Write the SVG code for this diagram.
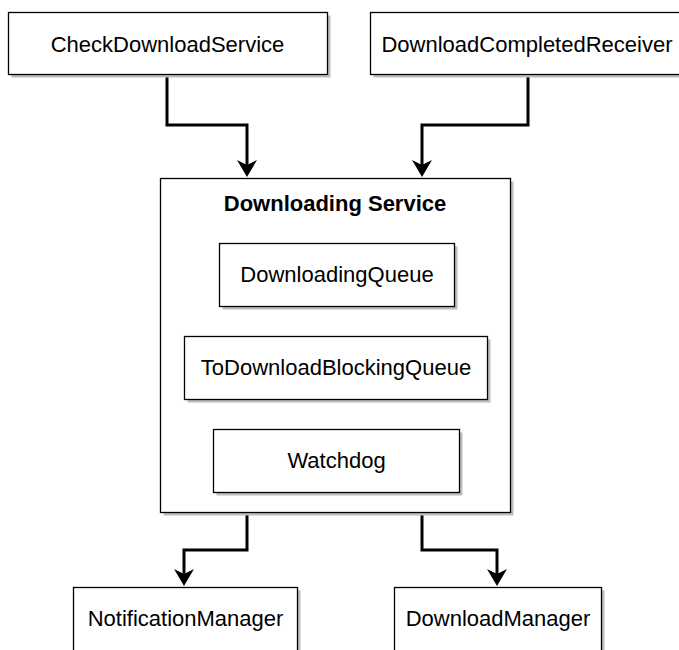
<svg xmlns="http://www.w3.org/2000/svg" width="679" height="650" viewBox="0 0 679 650">
<style>
.box{fill:#fff;stroke:#000;stroke-width:1.3}
.sh{fill:#bdbdbd}
.t{font-family:"Liberation Sans",Arial,sans-serif;font-size:22px;fill:#000;text-anchor:middle}
.b{font-weight:bold}
.c{fill:none;stroke:#000;stroke-width:3;marker-end:url(#arr)}
</style>
<defs>
<marker id="arr" markerUnits="userSpaceOnUse" viewBox="-6 -11 20 22" markerWidth="20" markerHeight="22" refX="0" refY="0" orient="auto" overflow="visible">
<path d="M12,0 L-5,-10 L0,0 L-5,10 Z" fill="#000"/>
</marker>
</defs>
<rect width="679" height="650" fill="#fff"/>
<g id="connectors">
<path class="c" d="M167,75 V125 H247 V165"/>
<path class="c" d="M528,75 V125 H422 V165"/>
<path class="c" d="M247,512 V550 H184 V574"/>
<path class="c" d="M422,512 V550 H497 V574"/>
</g>
<g id="checkDownloadService">
<rect class="sh" x="11.5" y="15.5" width="319" height="62"/>
<rect class="box" x="8.5" y="12.5" width="319" height="62"/>
<text class="t" x="167.5" y="51.5">CheckDownloadService</text>
</g>
<g id="downloadCompletedReceiver">
<rect class="sh" x="373.5" y="15.5" width="316" height="62"/>
<rect class="box" x="370.5" y="12.5" width="316" height="62"/>
<text class="t" x="527" y="51.5">DownloadCompletedReceiver</text>
</g>
<g id="downloadingService">
<rect class="sh" x="163.5" y="181.5" width="350" height="334"/>
<rect class="box" x="160.5" y="178.5" width="350" height="334"/>
<text class="t b" x="335" y="211">Downloading Service</text>
</g>
<g id="downloadingQueue">
<rect class="sh" x="222.5" y="246.5" width="235" height="63"/>
<rect class="box" x="219.5" y="243.5" width="235" height="63"/>
<text class="t" x="337" y="282">DownloadingQueue</text>
</g>
<g id="toDownloadBlockingQueue">
<rect class="sh" x="187.5" y="339.5" width="303" height="63"/>
<rect class="box" x="184.5" y="336.5" width="303" height="63"/>
<text class="t" x="336" y="375">ToDownloadBlockingQueue</text>
</g>
<g id="watchdog">
<rect class="sh" x="216.5" y="432.5" width="246" height="63"/>
<rect class="box" x="213.5" y="429.5" width="246" height="63"/>
<text class="t" x="336.5" y="468">Watchdog</text>
</g>
<g id="notificationManager">
<rect class="sh" x="76.5" y="590.5" width="224" height="66"/>
<rect class="box" x="73.5" y="587.5" width="224" height="66"/>
<text class="t" x="185.5" y="626">NotificationManager</text>
</g>
<g id="downloadManager">
<rect class="sh" x="397.5" y="590.5" width="207" height="66"/>
<rect class="box" x="394.5" y="587.5" width="207" height="66"/>
<text class="t" x="498" y="626">DownloadManager</text>
</g>
</svg>
